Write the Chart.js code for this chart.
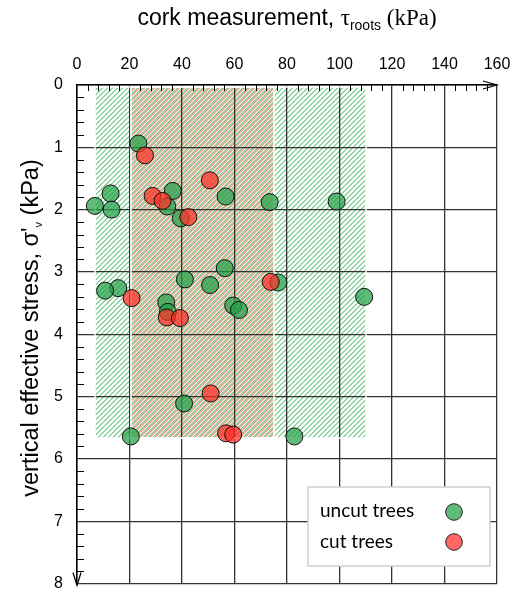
<!DOCTYPE html>
<html>
<head>
<meta charset="utf-8">
<script src="https://cdn.jsdelivr.net/npm/chart.js@4.4.1/dist/chart.umd.min.js"></script>
<style>
  html, body { margin: 0; padding: 0; background: #fff; }
  #grafica { display: block; }
</style>
</head>
<body>
<canvas id="grafica" width="517" height="593"></canvas>
<script>
// uncut trees: cork measurement (kPa) and vertical effective stress (kPa)
const uncutX = [6.8, 12.8, 13.2, 23.4, 36.5, 34.4, 39.5, 56.6, 73.4, 98.9, 41.1, 56.3,
                50.7, 15.7, 10.7, 34.0, 34.6, 59.5, 61.7, 76.7, 109.4, 40.8, 20.5, 82.8];
const uncutY = [1.94, 1.74, 2.00, 0.94, 1.70, 1.95, 2.14, 1.79, 1.88, 1.87, 3.12, 2.94,
                3.21, 3.26, 3.30, 3.49, 3.64, 3.54, 3.61, 3.17, 3.40, 5.11, 5.64, 5.64];

// cut trees
const cutX = [25.9, 28.8, 32.6, 50.6, 42.4, 73.8, 20.8, 34.2, 39.2, 50.9, 56.8, 59.5];
const cutY = [1.13, 1.78, 1.86, 1.53, 2.12, 3.16, 3.42, 3.73, 3.74, 4.95, 5.59, 5.61];

// hatched ranges
const uncutRange = [7, 110];
const cutRange = [20.5, 75];
const stressRange = [0.03, 5.67];

const xMax = 160, xStep = 20, xMinor = 4;
const yMax = 8, yStep = 1, yMinor = 0.2;

const verde = "rgba(34,160,70,0.72)";
const rojo = "rgba(255,45,35,0.72)";

function puntos(xs, ys) {
  return xs.map((v, i) => ({ x: v, y: ys[i] }));
}

// tile de 5x5 con una diagonal "/" de 2 px de ancho
function patron(ctx, color, desfase) {
  const t = document.createElement("canvas");
  t.width = 5; t.height = 5;
  const c = t.getContext("2d");
  c.fillStyle = color;
  for (let fila = 0; fila < 5; fila++) {
    const col = (4 - fila + desfase) % 5;
    c.fillRect(col, fila, 1, 1);
    c.fillRect((col + 1) % 5, fila, 1, 1);
  }
  return ctx.createPattern(t, "repeat");
}

function caja(x, y, rango) {
  const left = Math.round(x.getPixelForValue(rango[0]));
  const right = Math.round(x.getPixelForValue(rango[1]));
  const top = Math.round(y.getPixelForValue(stressRange[0]));
  const bottom = Math.round(y.getPixelForValue(stressRange[1]));
  return { left, top, w: right - left, h: bottom - top };
}

const rayadoPlugin = {
  id: "rayado",
  beforeDraw(chart) {
    const { ctx, scales: { x, y } } = chart;
    if (!x || !y) return;
    const g = caja(x, y, uncutRange);
    const r = caja(x, y, cutRange);
    ctx.save();
    ctx.fillStyle = patron(ctx, "#8fd3a3", 0);
    ctx.fillRect(g.left, g.top, g.w, g.h);
    ctx.fillStyle = patron(ctx, "#f5a592", 2);
    ctx.fillRect(r.left, r.top, r.w, r.h);
    ctx.restore();
  },
  beforeDatasetsDraw(chart) {
    const { ctx, scales: { x, y } } = chart;
    const g = caja(x, y, uncutRange);
    const r = caja(x, y, cutRange);
    ctx.save();
    ctx.strokeStyle = "#fff";
    ctx.lineWidth = 1.5;
    ctx.strokeRect(g.left, g.top, g.w, g.h);
    ctx.strokeRect(r.left, r.top, r.w, r.h);
    ctx.restore();
  }
};

function textoPartes(ctx, partes, cx, base) {
  let total = 0;
  partes.forEach(p => { ctx.font = p.f; p.w = ctx.measureText(p.t).width; total += p.w; });
  let pos = cx - total / 2;
  ctx.textAlign = "left";
  ctx.textBaseline = "alphabetic";
  partes.forEach(p => {
    ctx.font = p.f;
    ctx.fillText(p.t, pos, base + p.dy);
    pos += p.w;
  });
}

const ejesPlugin = {
  id: "ejes",
  afterDraw(chart) {
    const { ctx, chartArea: a, scales: { x, y } } = chart;
    ctx.save();
    ctx.strokeStyle = "#000";
    ctx.lineWidth = 1;
    ctx.beginPath();
    for (let v = xMinor; v < xMax; v += xMinor) {
      if (v % xStep === 0) continue;
      const px = Math.round(x.getPixelForValue(v)) + 0.5;
      ctx.moveTo(px, a.top);
      ctx.lineTo(px, a.top + 6);
    }
    const n = Math.round(yMax / yMinor);
    for (let i = 1; i < n; i++) {
      if (i % 5 === 0) continue;
      const py = Math.round(y.getPixelForValue(i * yMinor)) + 0.5;
      ctx.moveTo(a.left, py);
      ctx.lineTo(a.left + 7, py);
    }
    ctx.stroke();

    // flechas
    ctx.lineWidth = 1.2;
    ctx.beginPath();
    ctx.moveTo(a.right - 14, a.top - 4);
    ctx.lineTo(a.right, a.top);
    ctx.lineTo(a.right - 14, a.top + 4);
    ctx.moveTo(a.left - 4, a.bottom - 11);
    ctx.lineTo(a.left, a.bottom + 2);
    ctx.lineTo(a.left + 4, a.bottom - 11);
    ctx.stroke();

    // titulos
    ctx.fillStyle = "#000";
    textoPartes(ctx, [
      { t: "cork measurement, ", f: "23px 'Liberation Sans'", dy: 0 },
      { t: "τ", f: "23px 'Liberation Serif'", dy: 0 },
      { t: "roots", f: "14px 'Liberation Sans'", dy: 5 },
      { t: " (kPa)", f: "23px 'Liberation Serif'", dy: 0 }
    ], 287, 25);

    ctx.save();
    ctx.translate(38, 328);
    ctx.rotate(-Math.PI / 2);
    textoPartes(ctx, [
      { t: "vertical effective stress, σ'", f: "23.5px 'Liberation Sans'", dy: 0 },
      { t: "v", f: "11px 'Liberation Sans'", dy: 4 },
      { t: " (kPa)", f: "23.5px 'Liberation Sans'", dy: 0 }
    ], 0, 0);
    ctx.restore();

    // leyenda
    ctx.fillStyle = "#fff";
    ctx.fillRect(308, 487, 182, 79);
    ctx.strokeStyle = "#cfcfcf";
    ctx.lineWidth = 1.5;
    ctx.strokeRect(308, 487, 182, 79);
    const items = [["uncut trees", verde, 517, 512], ["cut trees", rojo, 548, 542]];
    items.forEach(([txt, col, base, cy]) => {
      ctx.fillStyle = "#000";
      ctx.font = "19px Lato";
      ctx.textAlign = "left";
      ctx.textBaseline = "alphabetic";
      ctx.fillText(txt, 320, base);
      ctx.beginPath();
      ctx.arc(454, cy, 8.3, 0, Math.PI * 2);
      ctx.fillStyle = col;
      ctx.fill();
      ctx.strokeStyle = "#222";
      ctx.lineWidth = 1;
      ctx.stroke();
    });
    ctx.restore();
  }
};

new Chart(document.getElementById("grafica"), {
  type: "scatter",
  data: {
    datasets: [
      {
        label: "uncut trees",
        data: puntos(uncutX, uncutY),
        backgroundColor: verde,
        borderColor: "#111",
        borderWidth: 1,
        pointRadius: 8.5,
        order: 2
      },
      {
        label: "cut trees",
        data: puntos(cutX, cutY),
        backgroundColor: rojo,
        borderColor: "#111",
        borderWidth: 1,
        pointRadius: 8.5,
        order: 1
      }
    ]
  },
  options: {
    responsive: false,
    animation: false,
    layout: { padding: { top: 0, left: 0, right: 20, bottom: 7 } },
    plugins: {
      legend: { display: false },
      tooltip: { enabled: false }
    },
    scales: {
      x: {
        type: "linear",
        position: "top",
        min: 0,
        max: xMax,
        ticks: { stepSize: xStep, padding: 11, color: "#000", font: { family: "Liberation Sans", size: 16 } },
        grid: { color: "#333", lineWidth: 1.3, drawTicks: false },
        border: { color: "#000", width: 1.5 },
        afterFit: s => { s.height = 85; s.paddingLeft = 0; s.paddingRight = 0; }
      },
      y: {
        type: "linear",
        reverse: true,
        min: 0,
        max: yMax,
        ticks: { stepSize: yStep, padding: 14, color: "#000", font: { family: "Liberation Sans", size: 16 } },
        grid: { color: "#333", lineWidth: 1.3, drawTicks: false },
        border: { color: "#000", width: 1.5 },
        afterFit: s => { s.width = 77; s.paddingTop = 0; s.paddingBottom = 0; }
      }
    }
  },
  plugins: [rayadoPlugin, ejesPlugin]
});
</script>
</body>
</html>
